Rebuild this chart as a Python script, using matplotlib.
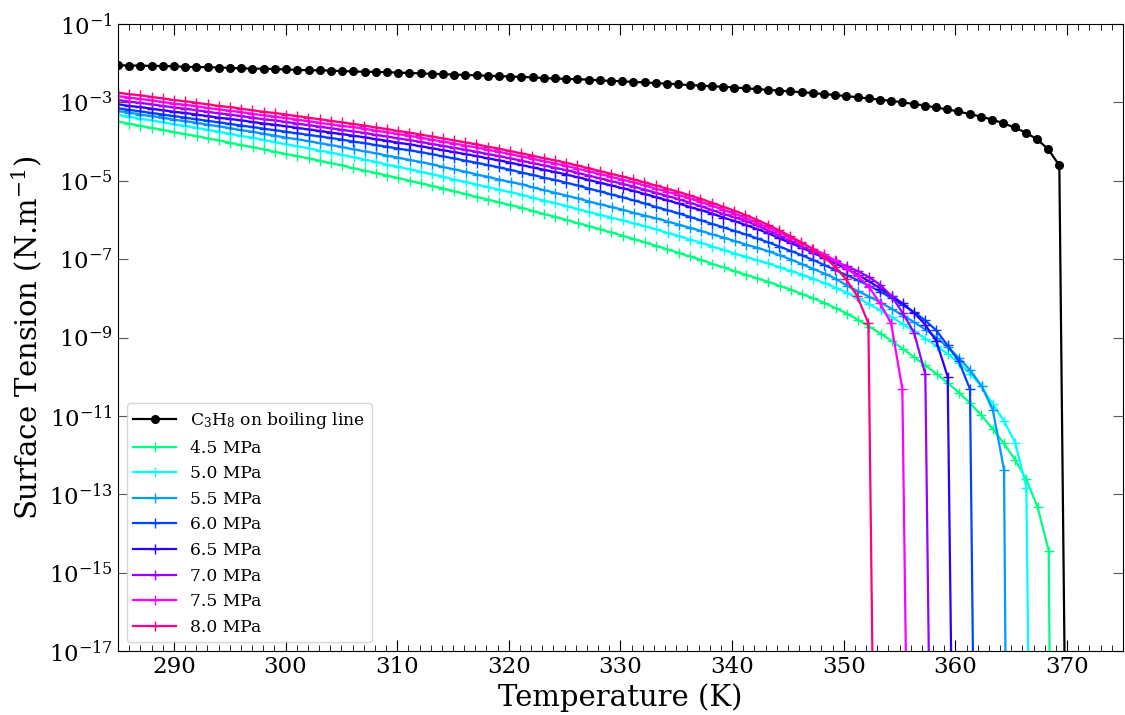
import numpy as np
import matplotlib
matplotlib.use('Agg')
import matplotlib.pyplot as plt
from matplotlib.ticker import MultipleLocator, NullLocator

plt.rcParams['font.family'] = 'DejaVu Serif'
plt.rcParams['mathtext.fontset'] = 'dejavuserif'

# log10 of surface tension (N/m), ~1 K steps from 285 K
boiling = [-2.05, -2.06, -2.06, -2.07, -2.07, -2.08, -2.09, -2.10, -2.10, -2.11,
           -2.12, -2.13, -2.14, -2.14, -2.15, -2.16, -2.17, -2.18, -2.18, -2.19,
           -2.20, -2.21, -2.22, -2.22, -2.23, -2.24, -2.25, -2.26, -2.27, -2.28,
           -2.29, -2.30, -2.31, -2.32, -2.33, -2.34, -2.35, -2.36, -2.38, -2.39,
           -2.40, -2.41, -2.42, -2.44, -2.45, -2.46, -2.48, -2.49, -2.51, -2.52,
           -2.54, -2.56, -2.57, -2.59, -2.60, -2.62, -2.64, -2.66, -2.68, -2.70,
           -2.72, -2.74, -2.76, -2.79, -2.81, -2.84, -2.87, -2.90, -2.93, -2.96,
           -3.00, -3.04, -3.08, -3.13, -3.18, -3.23, -3.30, -3.36, -3.44, -3.53,
           -3.64, -3.77, -3.94, -4.19, -4.61]

p45 = [-3.49, -3.54, -3.60, -3.65, -3.70, -3.76, -3.81, -3.86, -3.92, -3.97,
       -4.03, -4.09, -4.14, -4.20, -4.26, -4.32, -4.37, -4.43, -4.49, -4.55,
       -4.61, -4.68, -4.74, -4.80, -4.87, -4.93, -5.00, -5.06, -5.13, -5.20,
       -5.27, -5.34, -5.41, -5.48, -5.55, -5.62, -5.69, -5.77, -5.85, -5.92,
       -6.00, -6.08, -6.16, -6.24, -6.32, -6.40, -6.49, -6.57, -6.66, -6.75,
       -6.84, -6.93, -7.02, -7.12, -7.21, -7.31, -7.40, -7.49, -7.58, -7.68,
       -7.78, -7.89, -8.00, -8.12, -8.25, -8.39, -8.55, -8.72, -8.90, -9.09,
       -9.29, -9.50, -9.71, -9.93, -10.16, -10.41, -10.68, -10.99, -11.33, -11.70,
       -12.12, -12.62, -13.32, -14.44]

p50 = [-3.32, -3.36, -3.42, -3.46, -3.51, -3.56, -3.60, -3.65, -3.70, -3.75,
       -3.80, -3.86, -3.90, -3.96, -4.01, -4.07, -4.12, -4.17, -4.23, -4.28,
       -4.34, -4.40, -4.46, -4.52, -4.59, -4.64, -4.71, -4.77, -4.83, -4.90,
       -4.97, -5.03, -5.10, -5.16, -5.23, -5.29, -5.36, -5.43, -5.51, -5.57,
       -5.65, -5.72, -5.80, -5.87, -5.94, -6.01, -6.09, -6.16, -6.24, -6.33,
       -6.41, -6.50, -6.58, -6.68, -6.76, -6.86, -6.94, -7.03, -7.11, -7.21,
       -7.30, -7.40, -7.50, -7.61, -7.73, -7.86, -8.00, -8.15, -8.31, -8.48,
       -8.66, -8.84, -9.03, -9.22, -9.42, -9.65, -9.92, -10.25, -10.70, -11.13,
       -11.68, -12.83]

p55 = [-3.22, -3.26, -3.31, -3.35, -3.39, -3.44, -3.48, -3.52, -3.57, -3.61,
       -3.66, -3.71, -3.75, -3.80, -3.85, -3.90, -3.94, -3.99, -4.04, -4.09,
       -4.14, -4.20, -4.25, -4.30, -4.36, -4.41, -4.47, -4.52, -4.58, -4.65,
       -4.71, -4.77, -4.84, -4.90, -4.97, -5.03, -5.09, -5.17, -5.24, -5.31,
       -5.38, -5.45, -5.53, -5.60, -5.67, -5.74, -5.82, -5.89, -5.96, -6.04,
       -6.12, -6.20, -6.28, -6.37, -6.45, -6.54, -6.63, -6.71, -6.80, -6.90,
       -7.01, -7.13, -7.25, -7.37, -7.50, -7.68, -7.82, -7.96, -8.11, -8.27,
       -8.44, -8.61, -8.80, -9.01, -9.25, -9.53, -9.84, -10.24, -10.85, -12.38]

p60 = [-3.15, -3.19, -3.23, -3.27, -3.31, -3.35, -3.39, -3.43, -3.47, -3.51,
       -3.55, -3.59, -3.63, -3.67, -3.71, -3.75, -3.79, -3.83, -3.87, -3.91,
       -3.95, -4.00, -4.04, -4.09, -4.13, -4.18, -4.22, -4.27, -4.32, -4.38,
       -4.43, -4.49, -4.54, -4.60, -4.66, -4.72, -4.79, -4.85, -4.92, -4.98,
       -5.05, -5.12, -5.20, -5.27, -5.35, -5.42, -5.50, -5.58, -5.67, -5.75,
       -5.83, -5.92, -6.01, -6.10, -6.19, -6.28, -6.37, -6.47, -6.57, -6.68,
       -6.79, -6.90, -7.02, -7.15, -7.28, -7.41, -7.54, -7.68, -7.83, -7.99,
       -8.17, -8.35, -8.56, -8.82, -9.20, -9.60, -10.32]

p65 = [-3.05, -3.09, -3.12, -3.16, -3.20, -3.24, -3.27, -3.31, -3.35, -3.39,
       -3.42, -3.46, -3.50, -3.54, -3.57, -3.61, -3.65, -3.69, -3.73, -3.77,
       -3.81, -3.85, -3.89, -3.94, -3.98, -4.03, -4.07, -4.12, -4.17, -4.22,
       -4.27, -4.32, -4.37, -4.43, -4.48, -4.54, -4.60, -4.66, -4.72, -4.78,
       -4.84, -4.91, -4.98, -5.05, -5.12, -5.19, -5.26, -5.34, -5.42, -5.50,
       -5.58, -5.67, -5.75, -5.84, -5.94, -6.03, -6.13, -6.23, -6.34, -6.47,
       -6.59, -6.71, -6.84, -6.97, -7.11, -7.25, -7.40, -7.57, -7.75, -7.94,
       -8.13, -8.37, -8.67, -9.10, -10.00]

p70 = [-2.94, -2.98, -3.01, -3.05, -3.09, -3.13, -3.16, -3.20, -3.24, -3.28,
       -3.31, -3.35, -3.39, -3.43, -3.46, -3.50, -3.54, -3.58, -3.62, -3.66,
       -3.70, -3.74, -3.78, -3.83, -3.87, -3.92, -3.96, -4.01, -4.06, -4.11,
       -4.16, -4.21, -4.26, -4.32, -4.37, -4.43, -4.49, -4.55, -4.61, -4.67,
       -4.73, -4.80, -4.87, -4.94, -5.01, -5.08, -5.15, -5.23, -5.31, -5.39,
       -5.47, -5.56, -5.65, -5.75, -5.85, -5.93, -6.03, -6.14, -6.27, -6.40,
       -6.54, -6.68, -6.81, -6.94, -7.06, -7.18, -7.31, -7.46, -7.66, -7.95,
       -8.38, -8.88, -9.94]

p75 = [-2.84, -2.88, -2.91, -2.95, -2.99, -3.03, -3.06, -3.10, -3.14, -3.18,
       -3.21, -3.25, -3.29, -3.33, -3.36, -3.40, -3.44, -3.48, -3.52, -3.56,
       -3.60, -3.63, -3.67, -3.72, -3.76, -3.81, -3.85, -3.90, -3.95, -4.00,
       -4.05, -4.10, -4.15, -4.21, -4.26, -4.32, -4.38, -4.44, -4.50, -4.56,
       -4.62, -4.69, -4.76, -4.83, -4.90, -4.97, -5.04, -5.12, -5.20, -5.28,
       -5.36, -5.45, -5.54, -5.64, -5.74, -5.84, -5.95, -6.07, -6.19, -6.32,
       -6.45, -6.59, -6.73, -6.87, -7.03, -7.22, -7.44, -7.70, -8.12, -8.64,
       -10.31]

p80 = [-2.75, -2.79, -2.82, -2.86, -2.90, -2.94, -2.97, -3.01, -3.05, -3.09,
       -3.12, -3.16, -3.20, -3.24, -3.27, -3.31, -3.35, -3.39, -3.43, -3.47,
       -3.51, -3.55, -3.59, -3.64, -3.68, -3.73, -3.77, -3.82, -3.87, -3.92,
       -3.97, -4.02, -4.07, -4.13, -4.18, -4.24, -4.30, -4.36, -4.42, -4.48,
       -4.54, -4.61, -4.68, -4.75, -4.82, -4.89, -4.96, -5.04, -5.12, -5.20,
       -5.28, -5.37, -5.46, -5.56, -5.66, -5.76, -5.87, -5.99, -6.12, -6.26,
       -6.41, -6.57, -6.74, -6.93, -7.19, -7.51, -7.94, -8.64]

# last sampled temperature and the temperature where each curve falls off the axis
t_last = [369.3, 368.35, 366.35, 364.35, 361.3, 359.3, 357.3, 355.24, 352.2]
t_drop = [369.8, 368.45, 366.55, 364.5, 361.6, 359.65, 357.65, 355.6, 352.6]

labels = ['C$_3$H$_8$ on boiling line', '4.5 MPa', '5.0 MPa', '5.5 MPa', '6.0 MPa',
          '6.5 MPa', '7.0 MPa', '7.5 MPa', '8.0 MPa']
colors = ['black', '#00ff80', '#00ffff', '#0099ff', '#0044ff',
          '#2b00ff', '#9900ff', '#ff00ff', '#ff0080']
series = [boiling, p45, p50, p55, p60, p65, p70, p75, p80]

fig = plt.figure(figsize=(11.25, 7.15), dpi=100)
ax = fig.add_axes([0.1049, 0.0895, 0.8933, 0.8769])

for i, vals in enumerate(series):
    T = np.linspace(285, t_last[i], len(vals))
    T = np.append(T, t_drop[i])
    y = 10.0 ** np.append(np.array(vals), -18.0)
    if i == 0:
        ax.plot(T, y, '-o', color=colors[i], ms=5.5, lw=1.6, label=labels[i])
    else:
        ax.plot(T, y, '-+', color=colors[i], ms=7, mew=1.0, lw=1.6, label=labels[i])

ax.set_yscale('log')
ax.set_xlim(285, 375)
ax.set_ylim(1e-17, 1e-1)
ax.set_yticks([10.0 ** e for e in range(-1, -18, -2)])
ax.yaxis.set_minor_locator(NullLocator())
ax.xaxis.set_major_locator(MultipleLocator(10))
ax.xaxis.set_minor_locator(MultipleLocator(1))

ax.tick_params(which='both', direction='in', top=True, right=True, labelsize=16.5)
ax.tick_params(axis='x', which='major', length=8)
ax.tick_params(axis='x', which='minor', length=4)
ax.tick_params(axis='y', which='major', length=7.5, color='0.35')

ax.set_xlabel('Temperature (K)', fontsize=21)
ax.set_ylabel('Surface Tension (N.m$^{-1}$)', fontsize=21)

ax.legend(loc='lower left', fontsize=12.3, handlelength=2.5)

fig.savefig('out.png', dpi=100)
